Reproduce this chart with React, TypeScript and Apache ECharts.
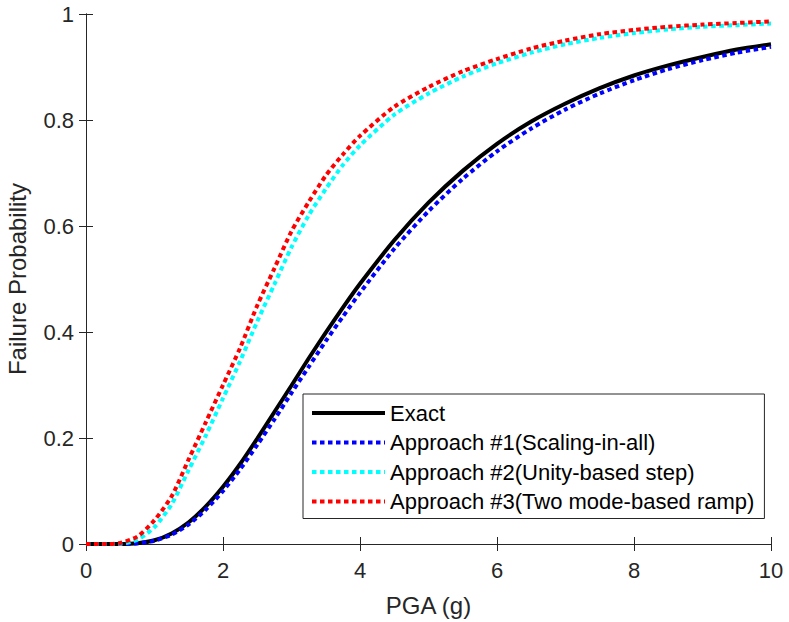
import React, { useEffect, useRef } from "react";
import * as echarts from "echarts";

const pga = [0, 0.25, 0.5, 0.75, 1, 1.25, 1.5, 1.75, 2, 2.25, 2.5, 2.75, 3, 3.25, 3.5, 3.75, 4, 4.5, 5, 5.5, 6, 6.5, 7, 7.5, 8, 8.5, 9, 9.5, 10];

const exact = [0, 0, 0.0001, 0.0015, 0.007, 0.02, 0.041, 0.071, 0.108, 0.151, 0.199, 0.249, 0.299, 0.35, 0.399, 0.446, 0.491, 0.573, 0.644, 0.704, 0.755, 0.797, 0.831, 0.86, 0.884, 0.903, 0.919, 0.933, 0.943];
const approach1 = [0, 0, 0.0001, 0.0013, 0.0063, 0.0176, 0.037, 0.065, 0.1, 0.141, 0.187, 0.235, 0.285, 0.334, 0.383, 0.429, 0.474, 0.557, 0.628, 0.689, 0.741, 0.784, 0.82, 0.85, 0.875, 0.896, 0.913, 0.927, 0.938];
const approach2 = [0, 0, 0.0005, 0.008, 0.032, 0.075, 0.14, 0.205, 0.275, 0.345, 0.42, 0.49, 0.56, 0.62, 0.67, 0.715, 0.752, 0.81, 0.85, 0.882, 0.907, 0.927, 0.943, 0.955, 0.964, 0.971, 0.976, 0.979, 0.982];
const approach3 = [0, 0, 0.002, 0.014, 0.045, 0.09, 0.16, 0.23, 0.3, 0.37, 0.45, 0.52, 0.59, 0.645, 0.695, 0.735, 0.77, 0.825, 0.862, 0.892, 0.915, 0.935, 0.95, 0.962, 0.97, 0.976, 0.98, 0.983, 0.986];

const seriesNames = ["Exact", "Approach #1(Scaling-in-all)", "Approach #2(Unity-based step)", "Approach #3(Two mode-based ramp)"];
const seriesValues = [exact, approach1, approach2, approach3];
const seriesColors = ["#000000", "#0000ff", "#00ffff", "#ff0000"];

const FONT = "'Liberation Sans', Arial, Helvetica, sans-serif";
const AX = "#262626";

export default function App() {
  const ref = useRef<HTMLDivElement>(null);
  useEffect(() => {
    if (!ref.current) return;
    const chart = echarts.init(ref.current, undefined, { renderer: "svg" });
    const series = seriesNames.map((name, k) => ({
      name,
      type: "line",
      data: pga.map((x, i) => [x, seriesValues[k][i]]),
      symbol: "none",
      showSymbol: false,
      smooth: 0.25,
      lineStyle: {
        color: seriesColors[k],
        width: 4,
        type: k === 0 ? "solid" : [4.5, 3.5],
        cap: "butt",
      },
      itemStyle: { color: seriesColors[k] },
      z: 2 + k,
    }));
    const hiddenAxisCommon = {
      axisLabel: { show: false },
      axisTick: { show: true, inside: true, length: 7, lineStyle: { color: AX, width: 1 } },
      axisLine: { show: true, lineStyle: { color: AX, width: 1 } },
      splitLine: { show: false },
    };
    chart.setOption({
      animation: false,
      backgroundColor: "#ffffff",
      grid: { left: 86, top: 14, right: 18, bottom: 78, containLabel: false, outerBoundsMode: "none" },
      xAxis: [
        {
          type: "value",
          min: 0,
          max: 10,
          interval: 2,
          position: "bottom",
          name: "PGA (g)",
          nameLocation: "middle",
          nameGap: 49,
          nameTextStyle: { fontFamily: FONT, fontSize: 24, color: AX },
          axisLabel: { fontFamily: FONT, fontSize: 22, color: AX, margin: 15 },
          axisTick: { show: true, inside: true, length: 7, lineStyle: { color: AX, width: 1 } },
          axisLine: { show: true, onZero: false, lineStyle: { color: AX, width: 1 } },
          splitLine: { show: false },
        },
        { type: "value", min: 0, max: 10, interval: 2, position: "top", ...hiddenAxisCommon },
      ],
      yAxis: [
        {
          type: "value",
          min: 0,
          max: 1,
          interval: 0.2,
          position: "left",
          name: "Failure Probability",
          nameLocation: "middle",
          nameGap: 57,
          nameTextStyle: { fontFamily: FONT, fontSize: 24, color: AX },
          axisLabel: { fontFamily: FONT, fontSize: 22, color: AX, margin: 12 },
          axisTick: { show: true, inside: true, length: 7, lineStyle: { color: AX, width: 1 } },
          axisLine: { show: true, onZero: false, lineStyle: { color: AX, width: 1 } },
          splitLine: { show: false },
        },
        { type: "value", min: 0, max: 1, interval: 0.2, position: "right", ...hiddenAxisCommon },
      ],
      legend: {
        show: true,
        orient: "vertical",
        left: 303,
        top: 394,
        itemWidth: 73,
        itemHeight: 14,
        itemGap: 7.5,
        padding: [8, 10, 6, 7],
        backgroundColor: "#ffffff",
        borderColor: AX,
        borderWidth: 1,
        borderRadius: 0,
        itemStyle: { opacity: 0, borderWidth: 0 },
        lineStyle: { width: 4 },
        textStyle: { fontFamily: FONT, fontSize: 22, color: "#000000", lineHeight: 22 },
        data: seriesNames,
        selectedMode: false,
      },
      series,
    });
    return () => chart.dispose();
  }, []);
  return (
    <div
      ref={ref}
      style={{ position: "fixed", left: 0, top: 0, width: 789, height: 622, background: "#fff" }}
    />
  );
}
